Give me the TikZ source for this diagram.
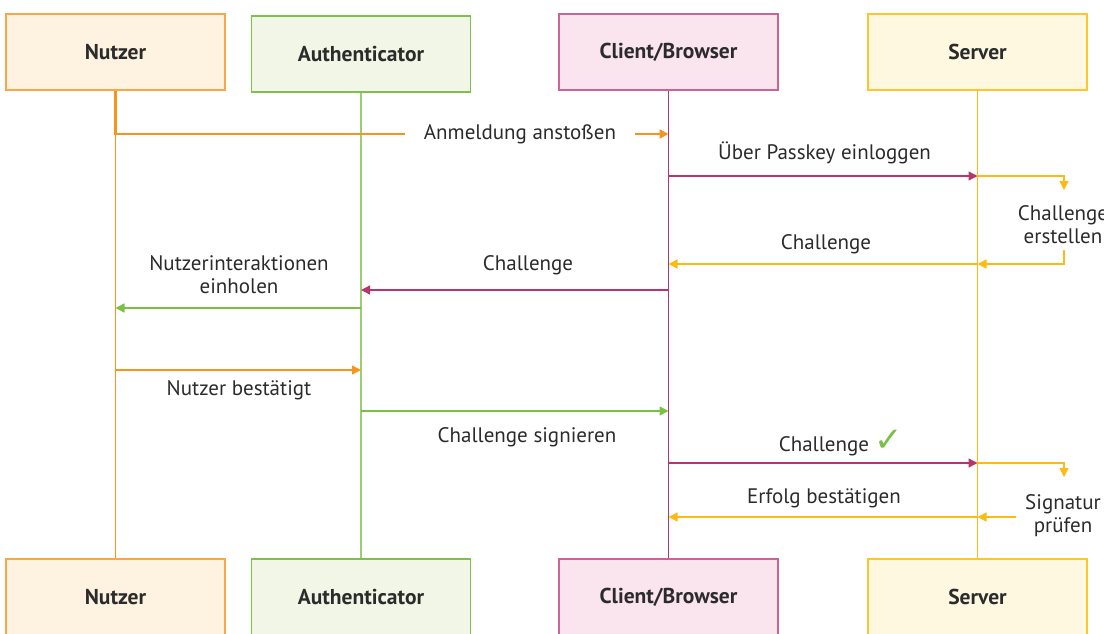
\documentclass[tikz,border=0pt]{standalone}
\usepackage{fontspec}
\setmainfont{PT Sans}
\newfontfamily\symfont{DejaVu Sans}
\usetikzlibrary{arrows.meta,calc}
\definecolor{txt}{HTML}{2B2B2B}
\definecolor{orgline}{HTML}{F7941D}
\definecolor{orgbox}{HTML}{F6A847}
\definecolor{orgfill}{HTML}{FEF2E1}
\definecolor{grnline}{HTML}{7AC143}
\definecolor{grnlife}{HTML}{9CCD72}
\definecolor{grnbox}{HTML}{7DC04B}
\definecolor{grnfill}{HTML}{F1F6E6}
\definecolor{magline}{HTML}{B9336F}
\definecolor{magbox}{HTML}{CC6396}
\definecolor{magfill}{HTML}{FAE4EE}
\definecolor{yelline}{HTML}{FDBA12}
\definecolor{yelbox}{HTML}{FFC52E}
\definecolor{yelfill}{HTML}{FEF8E1}
\tikzset{
  actor/.style={draw, line width=1.6pt, minimum width=219pt, minimum height=76pt, inner sep=0pt, font=\fontsize{21.5}{26}\selectfont\bfseries, text=txt},
  lbl/.style={font=\fontsize{21}{23}\selectfont, text=txt, align=center, inner sep=0pt},
  life/.style={line width=1.6pt},
  msg/.style={line width=1.4pt, -{Triangle[length=9pt,width=9pt]}},
}
\begin{document}
\begin{tikzpicture}[x=1pt,y=-1pt]
\useasboundingbox (0,0) rectangle (1104,633);
\clip (0,0) rectangle (1104,633);
% actor boxes
\node[actor, draw=orgbox, fill=orgfill] (nT) at (115.5,52) {Nutzer};
\node[actor, draw=grnbox, fill=grnfill] (aT) at (361,54) {Authenticator};
\node[actor, draw=magbox, fill=magfill] (cT) at (668.5,52) {Client/Browser};
\node[actor, draw=yelbox, fill=yelfill] (sT) at (977.5,52) {Server};
\node[actor, draw=orgbox, fill=orgfill] (nB) at (115.5,597) {Nutzer};
\node[actor, draw=grnbox, fill=grnfill] (aB) at (361,597) {Authenticator};
\node[actor, draw=magbox, fill=magfill] (cB) at (668.5,597) {Client/Browser};
\node[actor, draw=yelbox, fill=yelfill] (sB) at (977.5,597) {Server};
% lifelines
\draw[life, orgline] (nT.south) -- (nB.north);
\draw[life, grnlife] (aT.south) -- (aB.north);
\draw[life, magline] (cT.south) -- (cB.north);
\draw[life, yelline] (sT.south) -- (sB.north);
% y levels
\coordinate (y176) at (0,176);
\coordinate (y264) at (0,264);
\coordinate (y290) at (0,290);
\coordinate (y308) at (0,308);
\coordinate (y370) at (0,370);
\coordinate (y411) at (0,411);
\coordinate (y463) at (0,463);
\coordinate (y517) at (0,517);
% 1 Anmeldung anstossen
\node[lbl, minimum width=230pt] (l1) at (520,134) {Anmeldung anstoßen};
\draw[orgline, line width=2.6pt] (nT.south) |- (l1.west);
\draw[orgline, line width=2.6pt, -{Triangle[length=9pt,width=9pt]}] (l1.east) -- (cT.south |- l1.east);
% 2 Ueber Passkey einloggen
\node[lbl] (l2) at (824.5,153) {Über Passkey einloggen};
\draw[msg, magline] (cT.south |- y176) -- (sT.south |- y176);
% 3 Challenge erstellen (self)
\node[lbl] (l3) at (1063,224.5) {Challenge\\erstellen};
\coordinate (s3a) at (1064,190);
\coordinate (s3b) at (1064,250);
\draw[msg, yelline] (sT.south |- y176) -| (s3a);
\draw[msg, yelline] (s3b) |- (sT.south |- y264);
% 4 Challenge to client
\node[lbl] (l4) at (826,244) {Challenge};
\draw[msg, yelline] (sT.south |- y264) -- (cT.south |- y264);
% 5 Challenge to authenticator
\node[lbl] (l5) at (528,265) {Challenge};
\draw[msg, magline] (cT.south |- y290) -- (aT.south |- y290);
% 6 Nutzerinteraktionen einholen
\node[lbl] (l6) at (239,274.5) {Nutzerinteraktionen\\einholen};
\draw[msg, grnline] (aT.south |- y308) -- (nT.south |- y308);
% 7 Nutzer bestaetigt
\node[lbl] (l7) at (239,390) {Nutzer bestätigt};
\draw[msg, orgline] (nT.south |- y370) -- (aT.south |- y370);
% 8 Challenge signieren
\node[lbl] (l8) at (527,437) {Challenge signieren};
\draw[msg, grnline] (aT.south |- y411) -- (cT.south |- y411);
% 9 Challenge check
\node[lbl] (l9) at (841,443) {Challenge {\color{grnline}\fontsize{34}{34}\selectfont\symfont ✓}};
\draw[msg, magline] (cT.south |- y463) -- (sT.south |- y463);
% 10 Signatur pruefen (self)
\node[lbl] (l10) at (1063,515.5) {Signatur\\prüfen};
\coordinate (s10a) at (1064,477);
\coordinate (s10b) at (1016,517);
\draw[msg, yelline] (sT.south |- y463) -| (s10a);
\draw[msg, yelline] (s10b) -- (sT.south |- y517);
% 11 Erfolg bestaetigen
\node[lbl] (l11) at (824,498) {Erfolg bestätigen};
\draw[msg, yelline] (sT.south |- y517) -- (cT.south |- y517);
\end{tikzpicture}
\end{document}
